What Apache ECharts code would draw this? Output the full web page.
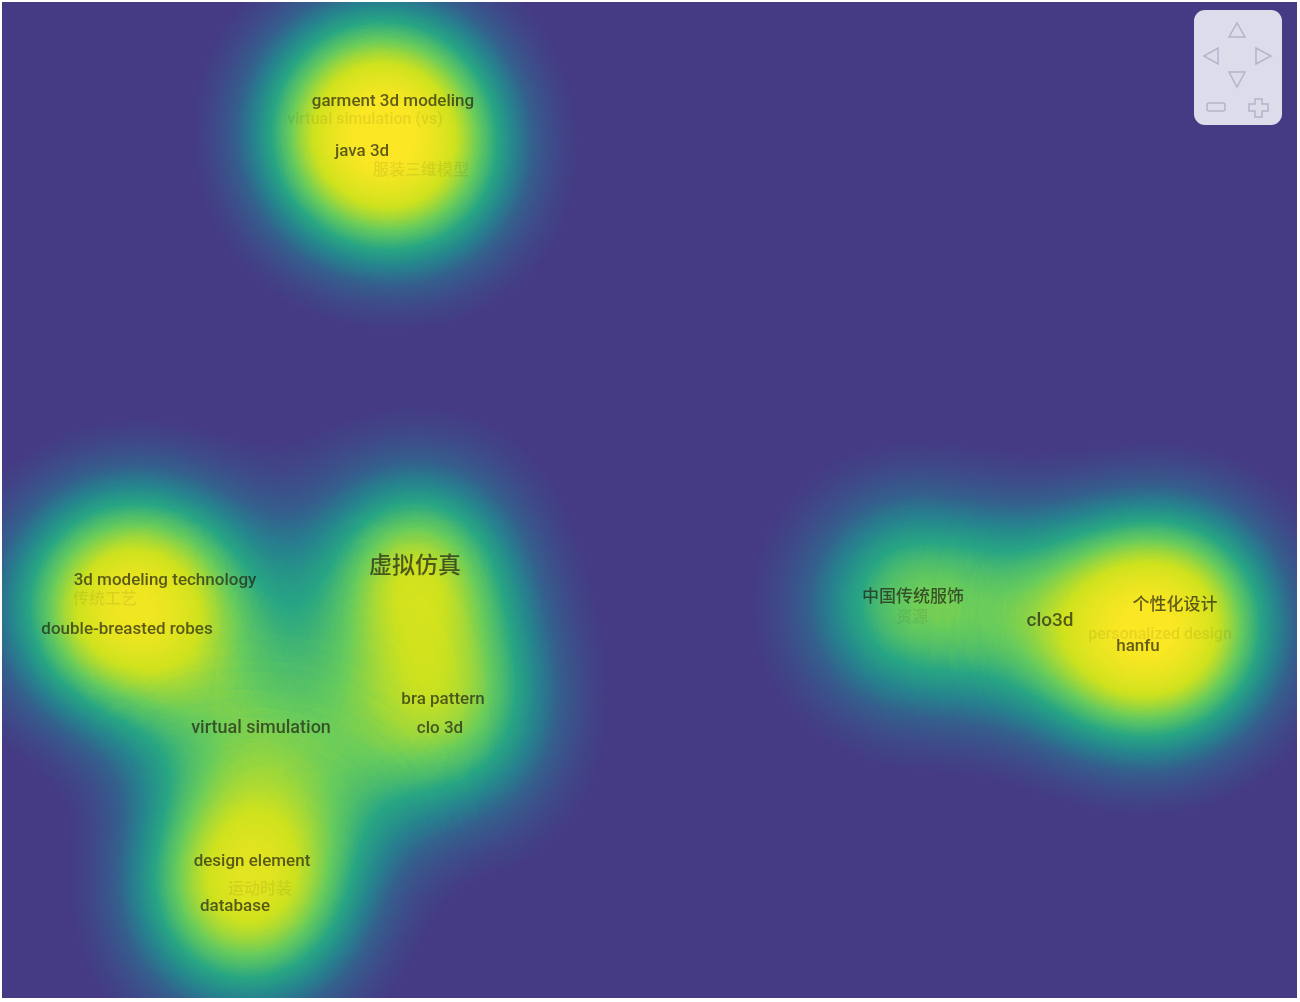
<!DOCTYPE html>
<html>
<head>
<meta charset="utf-8">
<script src="https://cdn.jsdelivr.net/npm/echarts@6/dist/echarts.min.js"></script>
<style>
  html, body { margin: 0; padding: 0; background: #fff; }
  #chart { position: absolute; left: 2px; top: 2px; width: 1295px; height: 996px; }
</style>
</head>
<body>
<div id="chart"></div>
<script>
// Palavras-chave do mapa de densidade (coordenadas no plano do mapa, y para cima)
const keywords = [
  "garment 3d modeling", "virtual simulation (vs)", "java 3d", "服装三维模型",
  "3d modeling technology", "传统工艺", "double-breasted robes",
  "虚拟仿真", "bra pattern", "clo 3d", "virtual simulation",
  "design element", "运动时装", "database",
  "中国传统服饰", "资源", "clo3d", "个性化设计", "personalized design", "hanfu"
];
const xs = [39.1, 36.3, 36.0, 41.9, 16.3, 10.3, 12.5, 41.3, 44.1, 43.8, 25.9,
            25.0, 25.8, 23.3, 91.1, 91.0, 104.8, 117.3, 115.8, 113.6];
const ys = [89.6, 87.8, 84.6, 82.7, 41.7, 39.8, 36.8, 43.1, 29.8, 26.9, 27.0,
            13.6, 10.8, 9.1, 40.0, 38.0, 37.7, 39.2, 36.3, 35.1];
// Ocorrências (tamanho do rótulo)
const occurrences = [4, 2, 4, 2, 4, 2, 4, 16, 4, 4, 6, 4, 2, 4, 4, 2, 8, 4, 2, 4];
// Peso de cada termo na densidade
const densityWeights = [0.55, 0.55, 0.55, 0.55, 0.6, 0.6, 0.6, 0.92, 0.55, 0.55, 0.62,
                        0.52, 0.52, 0.52, 0.68, 0.3, 0.38, 0.6, 0.6, 0.6];

// Extensão do plano (mesma proporção da área do gráfico)
const planoLargura = 129.5;
const planoAltura = 99.6;

// Registra um "mapa" retangular vazio só para usar o sistema de coordenadas geo
echarts.registerMap('plano', {
  type: 'FeatureCollection',
  features: [{
    type: 'Feature',
    properties: { name: 'plano' },
    geometry: {
      type: 'Polygon',
      coordinates: [[[0, 0], [planoLargura, 0], [planoLargura, planoAltura], [0, planoAltura], [0, 0]]]
    }
  }]
});

const fundo = '#443b84';
// Escala viridis do fundo até o amarelo (amarelo a partir de ~0.75)
const cores = ['#443b84', '#443b84', '#3e4b89', '#345f8d', '#26828e', '#27a583',
               '#66cb5c', '#cfe21d', '#fbe723', '#fde725', '#fde725'];

const densidade = keywords.map((k, i) => [xs[i], ys[i], densityWeights[i]]);

const rotulos = keywords.map((k, i) => {
  const fraco = occurrences[i] < 3;
  return {
    name: k,
    value: [xs[i], ys[i]],
    label: {
      fontSize: 15 + occurrences[i] / 2,
      color: fraco ? 'rgba(40,40,20,0.12)' : 'rgba(30,30,20,0.88)'
    }
  };
});

// Controle de navegação no canto superior direito
const traco = { stroke: '#b4b4cc', lineWidth: 1.5, fill: 'none' };
const navegacao = [
  { type: 'rect', shape: { x: 1192, y: 8, width: 88, height: 115, r: 11 },
    style: { fill: '#dcdcea' } },
  { type: 'polygon', shape: { points: [[1227, 35], [1243, 35], [1235, 21]] }, style: traco },
  { type: 'polygon', shape: { points: [[1227, 70], [1243, 70], [1235, 85]] }, style: traco },
  { type: 'polygon', shape: { points: [[1216, 46], [1216, 62], [1202, 54]] }, style: traco },
  { type: 'polygon', shape: { points: [[1254, 46], [1254, 62], [1269, 54]] }, style: traco },
  { type: 'rect', shape: { x: 1205, y: 101, width: 18, height: 8, r: 2 }, style: traco },
  { type: 'polygon', shape: { points: [
      [1253, 97], [1260, 97], [1260, 102], [1266, 102], [1266, 109], [1260, 109],
      [1260, 115], [1253, 115], [1253, 109], [1247, 109], [1247, 102], [1253, 102]
    ] }, style: traco }
];

const chart = echarts.init(document.getElementById('chart'));
chart.setOption({
  backgroundColor: fundo,
  animation: false,
  geo: {
    map: 'plano',
    left: 0, top: 0, right: 0, bottom: 0,
    aspectScale: 1,
    roam: false,
    silent: true,
    label: { show: false },
    itemStyle: { areaColor: 'transparent', borderWidth: 0, borderColor: 'transparent' },
    emphasis: { disabled: true }
  },
  visualMap: {
    show: false,
    type: 'continuous',
    min: 0,
    max: 1,
    seriesIndex: 0,
    inRange: { color: cores }
  },
  series: [
    {
      type: 'heatmap',
      coordinateSystem: 'geo',
      data: densidade,
      pointSize: 100,
      blurSize: 135,
      minOpacity: 1,
      maxOpacity: 1
    },
    {
      type: 'scatter',
      coordinateSystem: 'geo',
      symbolSize: 1,
      itemStyle: { color: 'transparent' },
      silent: true,
      label: {
        show: true,
        position: 'inside',
        formatter: '{b}',
        fontWeight: 500,
        fontFamily: 'Roboto, "Noto Sans CJK SC", sans-serif'
      },
      labelLayout: { hideOverlap: false },
      data: rotulos
    }
  ],
  graphic: navegacao
});
</script>
</body>
</html>
